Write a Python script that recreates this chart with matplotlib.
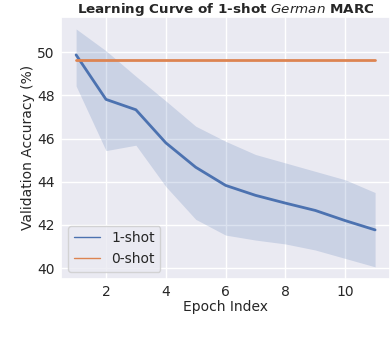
import matplotlib
matplotlib.use("Agg")
import matplotlib.pyplot as plt
import seaborn as sns

sns.set_theme(style="darkgrid")

epochs = [1, 2, 3, 4, 5, 6, 7, 8, 9, 10, 11]
one_shot = [49.87, 47.81, 47.33, 45.80, 44.67, 43.83, 43.37, 43.01, 42.67, 42.20, 41.77]
one_shot_hi = [51.07, 50.06, 48.88, 47.74, 46.57, 45.87, 45.26, 44.87, 44.48, 44.09, 43.50]
one_shot_lo = [48.43, 45.44, 45.69, 43.78, 42.26, 41.53, 41.30, 41.12, 40.84, 40.45, 40.06]
zero_shot = 49.63

fig = plt.figure(figsize=(3.92, 3.48), dpi=100)
ax = fig.add_axes([0.156, 0.199, 0.839, 0.752])

ax.plot(epochs, one_shot, color="C0", lw=2, label="1-shot")
ax.fill_between(epochs, one_shot_lo, one_shot_hi, color="C0", alpha=0.2, lw=0)
ax.plot(epochs, [zero_shot] * len(epochs), color="C1", lw=2, label="0-shot")

ax.set_xticks([2, 4, 6, 8, 10])
ax.set_yticks([40, 42, 44, 46, 48, 50])
ax.tick_params(labelsize=10, length=0, pad=4.5)
ax.set_xlabel("Epoch Index", fontsize=10, labelpad=1)
ax.set_ylabel("Validation Accuracy (%)", fontsize=10, labelpad=1.5)
ax.set_title("Learning Curve of 1-shot $\\it{German}$ MARC", fontsize=9.7, fontweight="bold", pad=3)
leg = ax.legend(loc="lower left", fontsize=10, handlelength=1.9)
for h in leg.get_lines():
    h.set_linewidth(1.0)

fig.savefig("out.png", dpi=100)
